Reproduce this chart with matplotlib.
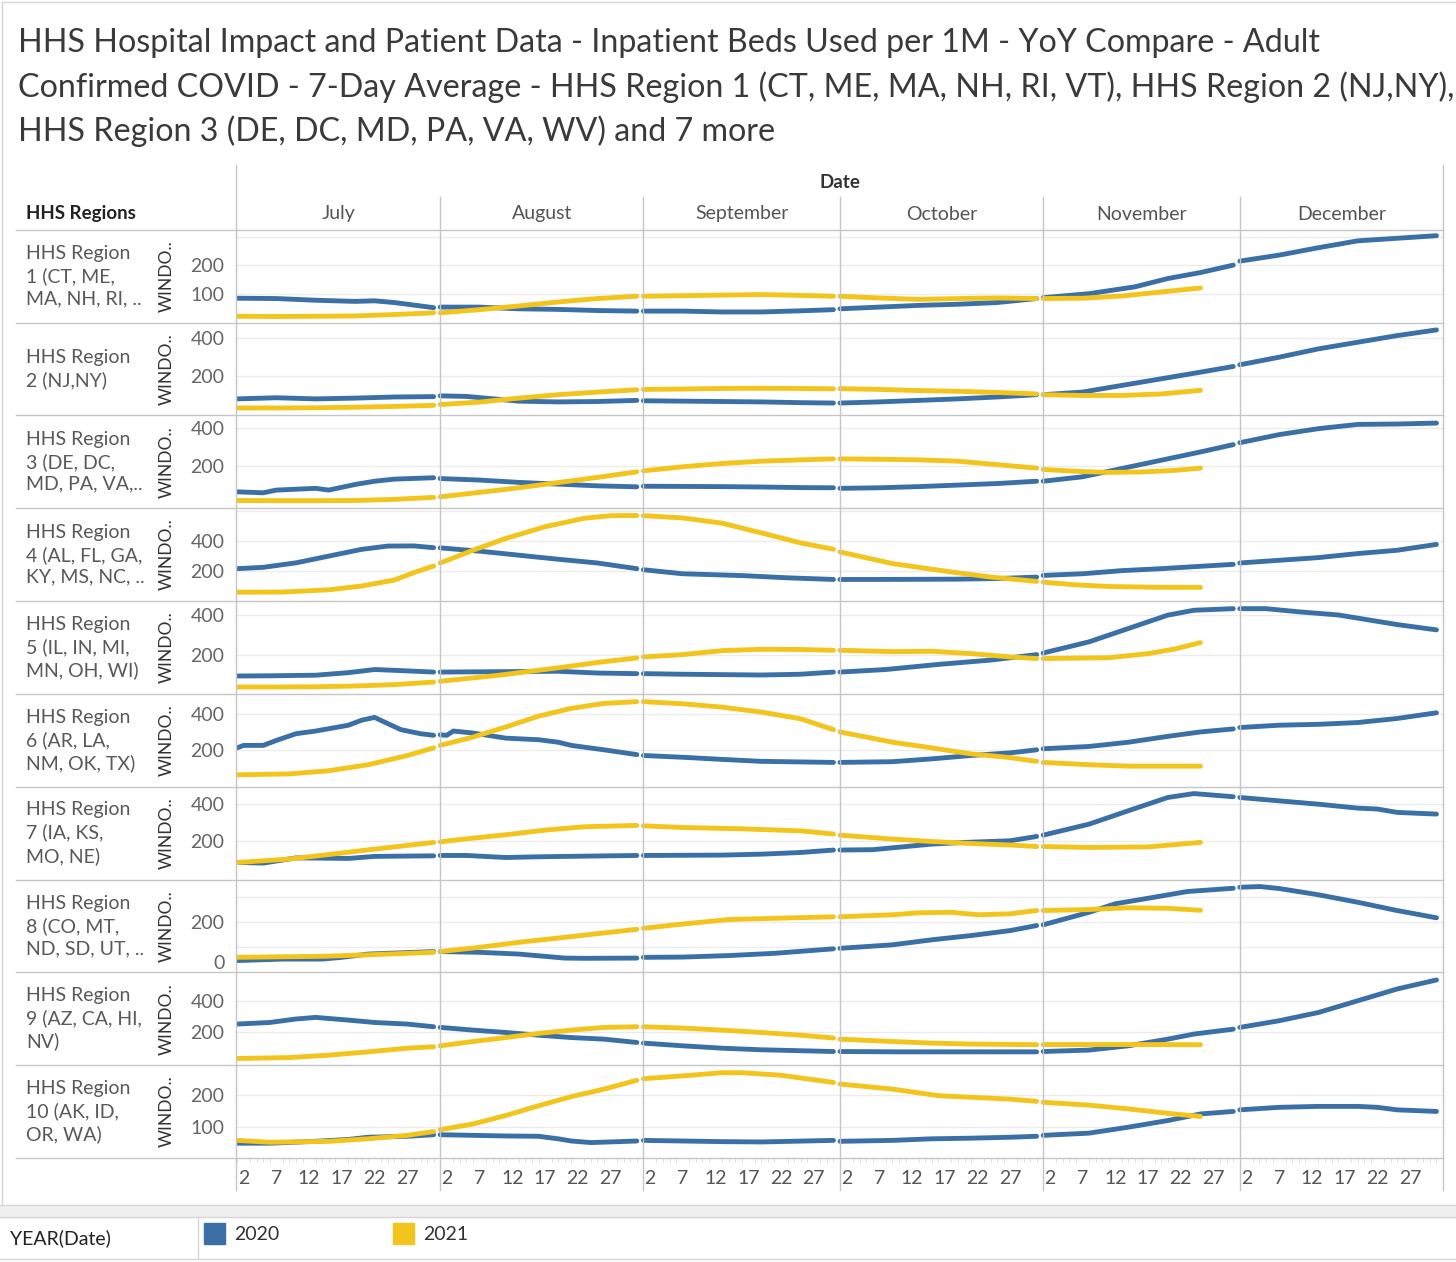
import numpy as np
import matplotlib.pyplot as plt
from matplotlib.lines import Line2D
from matplotlib.patches import Rectangle

plt.rcParams['font.family'] = ['Lato', 'DejaVu Sans']

### Data ((day of month, beds per 1M))

MONTHS = ["July", "August", "September", "October", "November", "December"]
MONTH_DAYS = [31, 31, 30, 31, 30, 31]
DAY_TICKS = [2, 7, 12, 17, 22, 27]

REGIONS = [
    "HHS Region\n1 (CT, ME,\nMA, NH, RI, ..",
    "HHS Region\n2 (NJ,NY)",
    "HHS Region\n3 (DE, DC,\nMD, PA, VA,..",
    "HHS Region\n4 (AL, FL, GA,\nKY, MS, NC, ..",
    "HHS Region\n5 (IL, IN, MI,\nMN, OH, WI)",
    "HHS Region\n6 (AR, LA,\nNM, OK, TX)",
    "HHS Region\n7 (IA, KS,\nMO, NE)",
    "HHS Region\n8 (CO, MT,\nND, SD, UT, ..",
    "HHS Region\n9 (AZ, CA, HI,\nNV)",
    "HHS Region\n10 (AK, ID,\nOR, WA)",
]

r1_2020 = [
    [(1, 85), (7, 84), (13, 78), (19, 74), (22, 76), (25, 70), (31, 52)],
    [(1, 54), (7, 54), (13, 48), (19, 46), (25, 42), (31, 40)],
    [(1, 40), (7, 40), (13, 37), (19, 37), (25, 41), (30, 45)],
    [(1, 48), (7, 54), (13, 60), (19, 64), (25, 70), (31, 84)],
    [(1, 87), (8, 101), (15, 125), (20, 154), (25, 175), (30, 201)],
    [(1, 215), (7, 236), (13, 262), (19, 286), (25, 295), (31, 304)],
]
r1_2021 = [
    [(1, 22), (7, 21), (13, 22), (19, 23), (25, 28), (31, 34)],
    [(1, 34), (7, 45), (13, 58), (19, 72), (25, 84), (31, 92)],
    [(1, 92), (7, 94), (13, 96), (19, 98), (25, 95), (30, 92)],
    [(1, 92), (7, 86), (13, 81), (19, 84), (25, 86), (31, 84)],
    [(1, 84), (7, 85), (13, 93), (19, 107), (25, 121)],
]

r2_2020 = [
    [(1, 80), (7, 86), (13, 80), (19, 84), (25, 90), (31, 92)],
    [(1, 96), (5, 93), (13, 68), (19, 64), (25, 66), (31, 72)],
    [(1, 70), (7, 68), (13, 66), (19, 64), (25, 60), (30, 58)],
    [(1, 58), (7, 64), (13, 72), (19, 80), (25, 90), (31, 102)],
    [(1, 102), (7, 116), (13, 151), (19, 186), (25, 221), (30, 251)],
    [(1, 260), (7, 300), (13, 344), (19, 379), (25, 414), (31, 444)],
]
r2_2021 = [
    [(1, 32), (7, 32), (13, 33), (19, 36), (25, 40), (31, 46)],
    [(1, 50), (7, 63), (13, 84), (19, 102), (25, 116), (31, 128)],
    [(1, 130), (7, 132), (13, 135), (19, 136), (25, 135), (30, 133)],
    [(1, 134), (7, 130), (13, 124), (19, 120), (25, 114), (31, 106)],
    [(1, 102), (7, 98), (13, 98), (19, 106), (25, 125)],
]

r3_2020 = [
    [(1, 67), (5, 62), (7, 76), (13, 85), (15, 76), (19, 105), (22, 122), (25, 133), (31, 140)],
    [(1, 136), (7, 128), (13, 116), (19, 107), (25, 98), (31, 93)],
    [(1, 96), (7, 95), (13, 94), (19, 92), (25, 89), (30, 88)],
    [(1, 85), (7, 88), (13, 94), (19, 102), (25, 110), (31, 122)],
    [(1, 122), (7, 145), (13, 188), (19, 231), (25, 274), (30, 312)],
    [(1, 322), (7, 364), (13, 395), (19, 417), (25, 419), (31, 424)],
]
r3_2021 = [
    [(1, 22), (7, 21), (13, 21), (19, 22), (25, 28), (31, 38)],
    [(1, 41), (7, 64), (13, 88), (19, 115), (25, 142), (31, 171)],
    [(1, 176), (7, 197), (13, 214), (19, 226), (25, 233), (30, 238)],
    [(1, 238), (7, 236), (13, 233), (19, 226), (25, 208), (31, 190)],
    [(1, 183), (7, 172), (11, 168), (16, 170), (21, 178), (25, 190)],
]

r4_2020 = [
    [(1, 216), (5, 225), (10, 255), (15, 300), (20, 345), (24, 367), (28, 368), (31, 356)],
    [(1, 355), (7, 333), (13, 306), (19, 279), (25, 254), (31, 216)],
    [(1, 209), (7, 182), (16, 170), (23, 155), (30, 144)],
    [(1, 144), (7, 144), (13, 145), (19, 146), (25, 150), (31, 160)],
    [(1, 171), (7, 182), (13, 203), (19, 216), (25, 232), (30, 245)],
    [(1, 254), (7, 272), (13, 290), (19, 317), (25, 339), (31, 378)],
]
r4_2021 = [
    [(1, 59), (8, 60), (15, 75), (20, 100), (25, 140), (28, 190), (31, 234)],
    [(1, 254), (6, 339), (11, 418), (17, 496), (23, 553), (27, 570), (31, 571)],
    [(1, 570), (7, 555), (13, 520), (19, 455), (25, 388), (30, 346)],
    [(1, 328), (9, 250), (18, 194), (24, 160), (31, 131)],
    [(1, 126), (6, 108), (11, 97), (18, 92), (25, 91)],
]

r5_2020 = [
    [(1, 91), (6, 92), (13, 95), (18, 108), (22, 124), (27, 117), (31, 111)],
    [(1, 111), (10, 113), (19, 115), (25, 106), (31, 103)],
    [(1, 103), (7, 100), (13, 98), (19, 96), (25, 100), (30, 111)],
    [(1, 111), (8, 124), (16, 150), (24, 172), (31, 200)],
    [(1, 208), (8, 265), (14, 333), (20, 401), (24, 426), (30, 434)],
    [(1, 434), (5, 434), (10, 418), (16, 402), (25, 353), (31, 326)],
]
r5_2021 = [
    [(1, 35), (7, 35), (13, 36), (19, 40), (25, 47), (31, 60)],
    [(1, 64), (10, 95), (20, 137), (25, 160), (31, 183)],
    [(1, 188), (7, 200), (13, 220), (19, 227), (25, 226), (30, 222)],
    [(1, 222), (9, 215), (15, 217), (21, 205), (27, 188), (31, 180)],
    [(1, 180), (11, 184), (17, 205), (21, 228), (25, 261)],
]

r6_2020 = [
    [(1, 211), (2, 225), (5, 225), (7, 253), (10, 291), (13, 306), (18, 339), (20, 367),
     (22, 383), (24, 348), (26, 314), (29, 291), (31, 282)],
    [(1, 285), (2, 282), (3, 306), (6, 295), (11, 266), (16, 257), (19, 243), (21, 225), (26, 200), (31, 173)],
    [(1, 168), (7, 158), (13, 146), (19, 135), (30, 129)],
    [(1, 129), (9, 133), (15, 149), (21, 168), (27, 183), (31, 200)],
    [(1, 206), (8, 219), (14, 243), (20, 276), (25, 301), (30, 318)],
    [(1, 326), (7, 339), (13, 344), (19, 354), (25, 377), (31, 409)],
]
r6_2021 = [
    [(1, 59), (9, 64), (15, 82), (21, 116), (27, 168), (31, 211)],
    [(1, 225), (6, 272), (11, 329), (16, 390), (21, 434), (26, 462), (31, 472)],
    [(1, 472), (7, 460), (13, 441), (19, 413), (25, 375), (30, 314)],
    [(1, 301), (9, 243), (15, 211), (21, 177), (27, 156), (31, 135)],
    [(1, 129), (8, 116), (14, 108), (25, 108)],
]

r7_2020 = [
    [(1, 88), (5, 84), (10, 112), (18, 109), (22, 120), (31, 123)],
    [(1, 125), (5, 125), (11, 114), (16, 118), (31, 125)],
    [(1, 125), (13, 127), (19, 132), (25, 141), (30, 154)],
    [(1, 154), (6, 156), (15, 186), (20, 195), (27, 204), (31, 227)],
    [(1, 234), (8, 293), (14, 365), (20, 436), (24, 457), (30, 440)],
    [(1, 436), (7, 418), (13, 400), (19, 379), (22, 374), (25, 356), (31, 347)],
]
r7_2021 = [
    [(1, 87), (9, 106), (15, 130), (21, 155), (27, 179), (31, 195)],
    [(1, 198), (6, 218), (11, 236), (17, 261), (23, 279), (31, 286)],
    [(1, 284), (7, 275), (16, 268), (25, 257), (30, 240)],
    [(1, 234), (9, 213), (15, 200), (21, 189), (27, 181), (31, 173)],
    [(1, 173), (8, 168), (17, 171), (25, 195)],
]

r8_2020 = [
    [(1, 47), (8, 53), (14, 53), (17, 60), (21, 73), (31, 83)],
    [(1, 83), (7, 80), (13, 73), (20, 57), (23, 56), (31, 57)],
    [(1, 60), (7, 61), (14, 67), (21, 76), (30, 94)],
    [(1, 96), (9, 110), (15, 130), (21, 147), (27, 167), (31, 187)],
    [(1, 190), (8, 240), (12, 274), (17, 296), (23, 323), (30, 336)],
    [(1, 340), (4, 343), (7, 335), (13, 310), (19, 280), (25, 247), (31, 218)],
]
r8_2021 = [
    [(1, 60), (14, 64), (21, 70), (31, 80)],
    [(1, 83), (7, 100), (13, 120), (20, 140), (31, 172)],
    [(1, 176), (7, 193), (14, 211), (21, 216), (30, 222)],
    [(1, 222), (9, 230), (13, 238), (18, 240), (22, 230), (27, 234), (31, 247)],
    [(1, 247), (8, 251), (14, 258), (20, 256), (25, 248)],
]

r9_2020 = [
    [(1, 253), (6, 263), (10, 285), (13, 295), (18, 278), (22, 263), (27, 253), (31, 236)],
    [(1, 232), (6, 215), (11, 200), (16, 183), (21, 168), (26, 158), (31, 137)],
    [(1, 133), (7, 116), (13, 101), (19, 91), (30, 80)],
    [(1, 80), (10, 78), (20, 78), (31, 78)],
    [(1, 80), (8, 89), (14, 116), (20, 158), (24, 190), (30, 221)],
    [(1, 232), (7, 274), (13, 326), (19, 400), (25, 474), (31, 531)],
]
r9_2021 = [
    [(1, 36), (9, 42), (15, 57), (21, 78), (27, 101), (31, 110)],
    [(1, 116), (6, 143), (11, 168), (16, 194), (21, 215), (26, 232), (31, 236)],
    [(1, 236), (7, 228), (13, 215), (19, 200), (25, 183), (30, 165)],
    [(1, 158), (9, 143), (15, 133), (21, 127), (31, 123)],
    [(1, 124), (13, 124), (25, 123)],
]

r10_2020 = [
    [(1, 47), (6, 47), (13, 53), (18, 59), (21, 66), (27, 69), (31, 74)],
    [(1, 74), (11, 70), (16, 69), (19, 61), (21, 54), (24, 49), (31, 54)],
    [(1, 56), (13, 52), (19, 51), (30, 56)],
    [(1, 53), (9, 56), (15, 61), (21, 63), (27, 66), (31, 69)],
    [(1, 72), (8, 79), (14, 98), (20, 119), (25, 140), (30, 148)],
    [(1, 153), (7, 161), (13, 164), (19, 164), (22, 161), (25, 153), (31, 148)],
]
r10_2021 = [
    [(1, 56), (6, 50), (15, 53), (21, 61), (27, 72), (31, 84)],
    [(1, 90), (6, 108), (11, 135), (16, 166), (21, 195), (26, 219), (31, 247)],
    [(1, 252), (7, 261), (13, 271), (16, 271), (22, 263), (30, 240)],
    [(1, 235), (9, 219), (16, 198), (21, 193), (27, 187), (31, 180)],
    [(1, 177), (8, 168), (14, 156), (20, 142), (25, 132)],
]

SERIES_2020 = [r1_2020, r2_2020, r3_2020, r4_2020, r5_2020, r6_2020, r7_2020, r8_2020, r9_2020, r10_2020]
SERIES_2021 = [r1_2021, r2_2021, r3_2021, r4_2021, r5_2021, r6_2021, r7_2021, r8_2021, r9_2021, r10_2021]

# per row axis setup
Y_TICKS = [[100, 200], [200, 400], [200, 400], [200, 400], [200, 400],
           [200, 400], [200, 400], [0, 200], [200, 400], [100, 200]]
Y_GRID = [[100, 200, 300], [200, 400], [200, 400], [200, 400, 600], [200, 400],
          [200, 400], [200, 400], [100, 200, 300], [200, 400], [100, 200]]
Y_LIMS = [(0, 325), (-7, 483), (-18, 464), (0, 620), (0, 473),
          (-8, 516), (-4, 494), (0, 371), (-6, 579), (0, 295)]

BLUE = "#3b70a6"
YELLOW = "#f3c41c"
FRAME = "#c6c6c6"

### Layout (pixels)

W, H = 1456, 1262
X0, X1 = 237, 1443
ROW_TOP, ROW_H = 229.7, 92.83

fig = plt.figure(figsize=(W / 100, H / 100), dpi=100)
fig.patch.set_facecolor("white")


def hline(y, x0, x1, color=FRAME, lw=1.0):
    fig.add_artist(Line2D([x0 / W, x1 / W], [1 - y / H, 1 - y / H], color=color, lw=lw,
                          transform=fig.transFigure))


def vline(x, y0, y1, color=FRAME, lw=1.0):
    fig.add_artist(Line2D([x / W, x / W], [1 - y0 / H, 1 - y1 / H], color=color, lw=lw,
                          transform=fig.transFigure))


offsets = np.cumsum([0] + MONTH_DAYS[:-1])
total = sum(MONTH_DAYS)
px_day = (X1 - X0) / total

# title
title_lines = [
    "HHS Hospital Impact and Patient Data - Inpatient Beds Used per 1M - YoY Compare - Adult",
    "Confirmed COVID - 7-Day Average - HHS Region 1 (CT, ME, MA, NH, RI, VT), HHS Region 2 (NJ,NY),",
    "HHS Region 3 (DE, DC, MD, PA, VA, WV) and 7 more",
]
for k, line in enumerate(title_lines):
    fig.text(18 / W, 1 - (43 + 44 * k) / H, line, fontsize=23.2,
             color="#3a3a3a", va="center", ha="left")

# header
fig.text((X0 + X1) / 2 / W, 1 - 183 / H, "Date", fontsize=13.5, fontweight="bold", color="#333333",
         ha="center", va="center")
fig.text(26 / W, 1 - 214 / H, "HHS Regions", fontsize=13.5, fontweight="bold", color="#222222",
         ha="left", va="center")
for m, name in enumerate(MONTHS):
    xc = X0 + (offsets[m] + MONTH_DAYS[m] / 2) * px_day
    fig.text(xc / W, 1 - 214 / H, name, fontsize=14, color="#555555", ha="center", va="center")

### Draw rows

for i in range(10):
    top = ROW_TOP + i * ROW_H
    ax = fig.add_axes([X0 / W, 1 - (top + ROW_H) / H, (X1 - X0) / W, ROW_H / H])
    ax.set_xlim(0, total)
    ax.set_ylim(*Y_LIMS[i])
    for g in Y_GRID[i]:
        ax.axhline(g, color="#ececec", lw=1, zorder=0)

    for series, col in ((SERIES_2020[i], BLUE), (SERIES_2021[i], YELLOW)):
        for m, pts in enumerate(series):
            d = np.array(pts, dtype=float)
            ax.plot(offsets[m] + d[:, 0] - 1, d[:, 1], color=col, lw=3.5,
                    solid_capstyle="round", solid_joinstyle="round", zorder=3)

    ax.set_yticks(Y_TICKS[i])
    ax.set_yticklabels([str(t) for t in Y_TICKS[i]], fontsize=14, color="#666666")
    if Y_TICKS[i][0] == 0:
        ax.get_yticklabels()[0].set_va("bottom")
    ax.tick_params(axis="y", length=0, pad=9)
    for s in ax.spines.values():
        s.set_visible(False)

    if i < 9:
        ax.set_xticks([])
    else:
        major = [offsets[m] + d - 1 for m in range(6) for d in DAY_TICKS]
        ax.set_xticks(major)
        ax.set_xticklabels([str(d) for m in range(6) for d in DAY_TICKS], fontsize=14, color="#555555")
        ax.set_xticks([offsets[m] + d - 1 for m in range(6) for d in range(1, MONTH_DAYS[m] + 1)],
                      minor=True)
        ax.tick_params(axis="x", which="major", length=0, pad=9)
        ax.tick_params(axis="x", which="minor", length=3, width=0.7, color="#dddddd")

    yc = top + ROW_H / 2
    fig.text(26 / W, 1 - yc / H, REGIONS[i], fontsize=14, color="#595959", ha="left", va="center",
             linespacing=1.35)
    fig.text(167 / W, 1 - yc / H, "WINDO..", fontsize=12.5, color="#333333", rotation=90,
             ha="center", va="center")

    hline(top, 16, X1)
hline(ROW_TOP + 10 * ROW_H, 16, X1)

# pane separators
vline(X0 - 1, 165, 1190)
for m in range(1, 6):
    xb = X0 + offsets[m] * px_day
    vline(xb, 197, 1190)
vline(X1, 165, 1190)

# outer frame and legend strip
hline(2, 2, W, color="#d6d6d6")
vline(2, 2, 1205, color="#d6d6d6")
fig.add_artist(Rectangle((0, 1 - 1217 / H), 1, 12 / H, transform=fig.transFigure,
                         facecolor="#f0f0f0", edgecolor="none"))
hline(1205, 0, W, color="#d6d6d6")
hline(1217, 0, W, color="#d6d6d6")
hline(1259, 0, W, color="#d6d6d6")
vline(198, 1217, 1259, color="#d6d6d6")

fig.text(10 / W, 1 - 1238 / H, "YEAR(Date)", fontsize=14, color="#222222", ha="left", va="center")
for xs, col, lab in ((204, BLUE, "2020"), (393, YELLOW, "2021")):
    fig.add_artist(Rectangle((xs / W, 1 - 1244 / H), 21 / W, 21 / H, transform=fig.transFigure,
                             facecolor=col, edgecolor=col))
    fig.text((xs + 30) / W, 1 - 1234 / H, lab, fontsize=14, color="#333333", ha="left", va="center")

fig.savefig("out.png", dpi=100)
